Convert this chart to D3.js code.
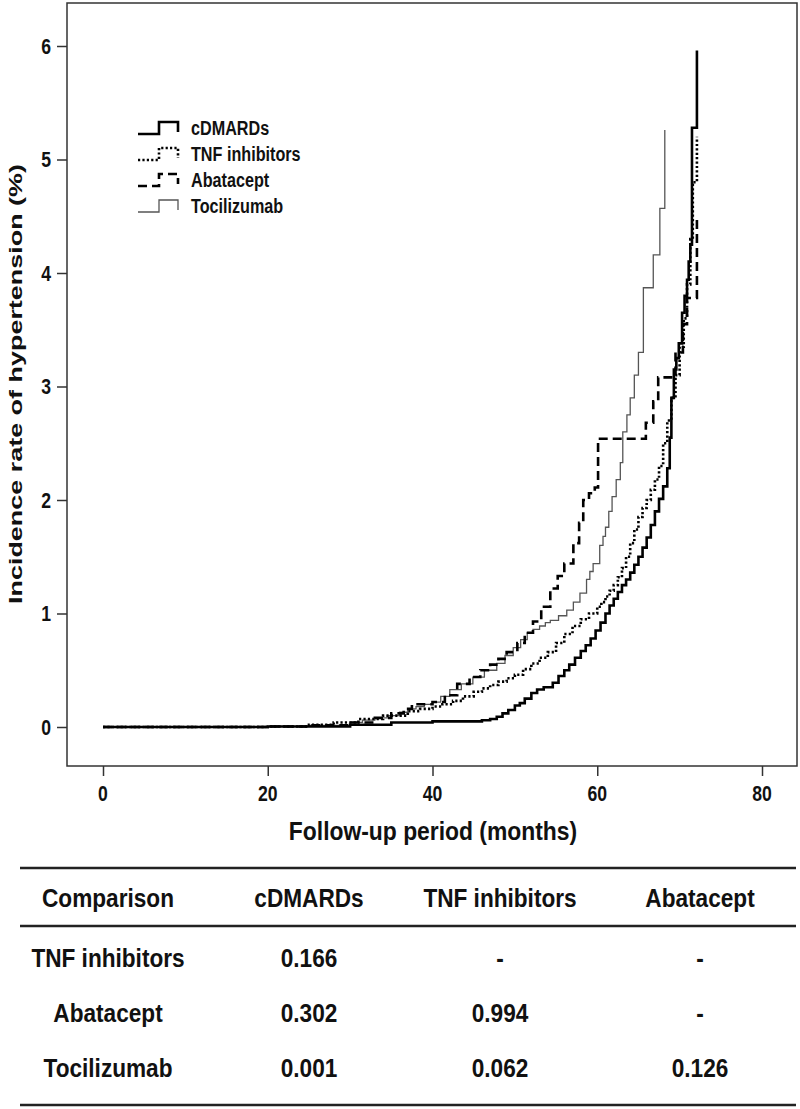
<!DOCTYPE html>
<html><head><meta charset="utf-8">
<script src="https://cdn.jsdelivr.net/npm/d3@7"></script>
<style>html,body{margin:0;padding:0;background:#fff;}svg{display:block;}</style>
</head><body>
<svg id="c" width="800" height="1109"></svg>
<script>
// ---- data ----
const xTicks = [0, 20, 40, 60, 80];
const yTicks = [0, 1, 2, 3, 4, 5, 6];
const seriesNames = ["cDMARDs", "TNF inhibitors", "Abatacept", "Tocilizumab"];
const cdmards = [[0,0],[20,0.005],[30,0.02],[35,0.04],[40,0.05],[46,0.06],[47,0.07],[47.8,0.09],[48.5,0.12],[49.2,0.15],[50,0.19],[50.6,0.21],[51.2,0.25],[52,0.3],[52.7,0.33],[53.5,0.35],[54.6,0.39],[55.3,0.45],[56,0.5],[56.6,0.55],[57.3,0.61],[58,0.67],[58.6,0.72],[59.2,0.78],[59.8,0.85],[60.4,0.92],[61,1.0],[61.5,1.07],[62,1.13],[62.5,1.19],[63,1.25],[63.5,1.3],[64,1.36],[64.5,1.43],[65,1.5],[65.5,1.58],[66,1.67],[66.5,1.78],[67,1.9],[67.5,2.01],[68,2.12],[68.5,2.28],[68.8,2.55],[69.0,2.9],[69.3,3.15],[69.6,3.25],[69.9,3.38],[70.3,3.65],[70.6,3.8],[70.9,3.94],[71.1,4.1],[71.3,4.25],[71.5,5.28],[72.1,5.96]];
const tnf = [[0,0],[20,0.005],[25,0.02],[28,0.04],[31,0.07],[34,0.1],[37,0.14],[38.5,0.16],[40,0.18],[41.2,0.2],[42.5,0.23],[43.7,0.27],[45,0.31],[46,0.34],[47,0.37],[48,0.4],[49,0.43],[50,0.46],[51,0.51],[52,0.56],[53,0.61],[54,0.66],[55,0.74],[56,0.82],[57,0.89],[58,0.95],[59,1.0],[60,1.06],[60.5,1.1],[61,1.15],[61.5,1.2],[62,1.25],[62.5,1.32],[63,1.4],[63.5,1.5],[64,1.62],[64.5,1.74],[65,1.85],[65.5,1.93],[66,2.0],[66.5,2.09],[67,2.18],[67.5,2.3],[68,2.5],[68.5,2.7],[69,2.9],[69.5,3.1],[70,3.35],[70.5,3.6],[70.9,3.9],[71.3,4.3],[71.6,4.8],[72.1,5.2]];
const abatacept = [[0,0],[20,0.005],[25,0.015],[30,0.04],[33,0.08],[35,0.12],[36.5,0.16],[37.5,0.2],[40,0.22],[41.5,0.28],[43,0.38],[44.5,0.44],[45.8,0.5],[47,0.55],[48,0.6],[49,0.66],[50.3,0.74],[51.2,0.83],[52.2,0.93],[53.2,1.06],[54.3,1.22],[55.2,1.33],[56,1.44],[57.1,1.62],[57.8,1.8],[58.3,2.0],[59,2.06],[59.7,2.11],[60.1,2.54],[65.9,2.68],[66.8,2.87],[67.4,3.08],[69.5,3.3],[70.4,3.55],[70.9,3.78],[72.1,4.47]];
const tocilizumab = [[0,0],[20,0.005],[25,0.015],[30,0.04],[31.5,0.06],[33,0.08],[34.5,0.1],[36,0.13],[37,0.16],[38,0.18],[39,0.2],[40,0.22],[41,0.27],[42.1,0.33],[43.5,0.38],[44.9,0.44],[46.3,0.5],[47.8,0.56],[48.8,0.63],[49.8,0.7],[50.7,0.77],[51.5,0.83],[52.2,0.86],[53,0.89],[53.7,0.92],[54.3,0.94],[55.3,0.98],[56.3,1.03],[57.1,1.1],[57.9,1.18],[58.7,1.3],[59.1,1.37],[59.5,1.44],[60.3,1.6],[60.7,1.68],[61,1.76],[61.4,1.9],[61.8,2.03],[62.3,2.18],[62.8,2.33],[63.1,2.6],[63.6,2.75],[64,2.9],[64.5,3.1],[65,3.3],[65.6,3.87],[66.8,4.16],[67.6,4.57],[68.2,5.26]];
const tableHeader = ["Comparison", "cDMARDs", "TNF inhibitors", "Abatacept"];
const tableRows = [
  ["TNF inhibitors", "0.166", "-", "-"],
  ["Abatacept", "0.302", "0.994", "-"],
  ["Tocilizumab", "0.001", "0.062", "0.126"]
];

// ---- styles ----
const styles = [
  {w: 2.6, dash: null, color: "#000"},
  {w: 2.6, dash: "2.2,2.2", color: "#000"},
  {w: 2.6, dash: "9,5", color: "#000"},
  {w: 1.3, dash: null, color: "#555"}
];
const FONT = "'Liberation Sans', Arial, sans-serif";

const svg = d3.select("#c");
const x = d3.scaleLinear().domain([0, 80]).range([103, 762]);
const y = d3.scaleLinear().domain([0, 6]).range([727, 46]);

function txt(g, px, py, s, size, anchor, sx, weight) {
  return g.append("text")
    .attr("transform", `translate(${px},${py}) scale(${sx},1)`)
    .attr("text-anchor", anchor)
    .attr("dominant-baseline", "central")
    .attr("font-family", FONT)
    .attr("font-weight", weight || "bold")
    .attr("font-size", size)
    .attr("fill", "#111")
    .text(s);
}

// frame
const L = 67, T = 3, R = 797, B = 766;
svg.append("rect").attr("x", L).attr("y", T).attr("width", R - L).attr("height", B - T)
  .attr("fill", "none").attr("stroke", "#333").attr("stroke-width", 1.5);

// axes
const yAxis = d3.axisLeft(y).tickValues(yTicks).tickSize(10).tickFormat("");
const gy = svg.append("g").attr("transform", `translate(${L},0)`).call(yAxis);
gy.select(".domain").remove();
gy.selectAll("line").attr("stroke", "#333").attr("stroke-width", 1.5);
yTicks.forEach(t => txt(svg, 51, y(t), String(t), 22, "end", 0.8));

const xAxis = d3.axisBottom(x).tickValues(xTicks).tickSize(10).tickFormat("");
const gx = svg.append("g").attr("transform", `translate(0,${B})`).call(xAxis);
gx.select(".domain").remove();
gx.selectAll("line").attr("stroke", "#333").attr("stroke-width", 1.5);
xTicks.forEach(t => txt(svg, x(t), 793, String(t), 22, "middle", 0.8));

txt(svg, 433, 831, "Follow-up period (months)", 26, "middle", 0.88);
svg.append("text")
  .attr("transform", `translate(16,384) rotate(-90)`)
  .attr("text-anchor", "middle").attr("dominant-baseline", "central")
  .attr("font-family", FONT).attr("font-weight", "bold").attr("font-size", 18)
  .attr("fill", "#111")
  .attr("textLength", 440).attr("lengthAdjust", "spacingAndGlyphs")
  .text("Incidence rate of hypertension (%)");

// curves
const line = d3.line().x(d => x(d[0])).y(d => y(d[1])).curve(d3.curveStepAfter);
const allSeries = [cdmards, tnf, abatacept, tocilizumab];
[3, 2, 1, 0].forEach(i => {
  svg.append("path").datum(allSeries[i]).attr("d", line)
    .attr("fill", "none").attr("stroke", styles[i].color)
    .attr("stroke-width", styles[i].w)
    .attr("stroke-dasharray", styles[i].dash)
    .attr("stroke-linejoin", "miter");
});

// legend
const legY = [128, 154, 180, 206];
seriesNames.forEach((n, i) => {
  const cy = legY[i];
  const p = `M138,${cy + 6} H159 V${cy - 6} H178 V${cy + 4}`;
  svg.append("path").attr("d", p).attr("fill", "none")
    .attr("stroke", styles[i].color).attr("stroke-width", styles[i].w)
    .attr("stroke-dasharray", styles[i].dash);
  txt(svg, 191, cy, n, 21, "start", 0.77);
});

// table
const colX = [108, 309, 500, 700];
const rowY = [958, 1013, 1068];
[868, 926, 1105].forEach(ly => svg.append("line").attr("x1", 20).attr("x2", 796)
  .attr("y1", ly).attr("y2", ly).attr("stroke", "#222").attr("stroke-width", 2.5));
tableHeader.forEach((h, j) => txt(svg, colX[j], 898, h, 26, "middle", 0.87));
tableRows.forEach((r, i) => r.forEach((c, j) => txt(svg, colX[j], rowY[i], c, 26, "middle", 0.87)));
</script>
</body></html>
